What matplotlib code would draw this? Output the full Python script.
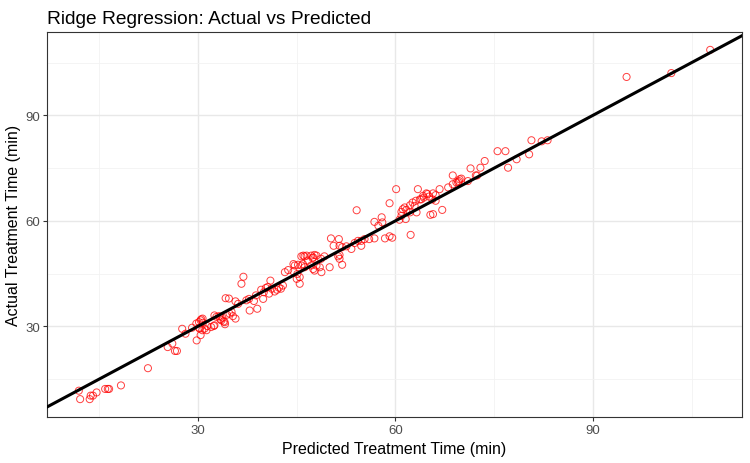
import numpy as np
import matplotlib
matplotlib.use("Agg")
import matplotlib.pyplot as plt
from matplotlib.ticker import MultipleLocator

plt.rcParams['font.family'] = ['Liberation Sans', 'DejaVu Sans']

# predicted vs actual treatment time (min)
predicted = [
    11.9, 12.1, 13.55, 13.7, 14.05, 14.6, 15.9, 16.3, 16.5, 18.3,
    22.4, 25.4, 26.1, 26.5, 26.8, 27.6, 28.1, 29.1, 29.75, 29.8,
    30.15, 30.15, 30.4, 30.4, 30.5, 30.7, 30.75, 30.25, 30.65, 31.3,
    31.0, 31.4, 32.0, 32.4, 32.5, 32.5, 32.8, 33.2, 33.4, 33.55,
    33.7, 33.9, 34.05, 34.1, 34.2, 34.4, 34.7, 34.8, 35.1, 35.3,
    35.7, 35.7, 36.1, 36.6, 36.9, 37.35, 37.75, 37.85, 38.5, 38.8,
    39.0, 39.6, 39.9, 40.0, 40.3, 40.6, 40.8, 41.0, 41.2, 41.65,
    42.0, 42.3, 42.6, 42.9, 43.2, 43.7, 44.5, 44.5, 44.7, 45.0,
    45.1, 45.45, 45.45, 45.2, 45.7, 45.7, 45.95, 46.0, 46.2, 46.2,
    46.5, 46.7, 47.2, 47.2, 47.4, 47.5, 47.5, 47.7, 47.7, 48.0,
    48.0, 48.5, 48.7, 48.75, 49.2, 50.0, 50.2, 50.6, 51.3, 51.5,
    51.5, 51.4, 51.5, 51.9, 51.9, 52.55, 53.3, 53.8, 54.1, 54.3,
    54.8, 54.8, 55.3, 56.0, 56.8, 56.8, 57.4, 57.9, 58.0, 58.4,
    59.1, 59.1, 59.5, 60.1, 60.6, 60.9, 60.9, 61.1, 61.4, 61.55,
    61.65, 62.2, 62.2, 62.3, 62.6, 62.9, 63.1, 63.2, 63.4, 63.7,
    63.9, 64.2, 64.3, 64.7, 64.85, 65.1, 65.3, 65.6, 65.7, 65.7,
    66.1, 66.1, 66.7, 67.1, 68.0, 68.7, 68.7, 69.25, 69.5, 69.65,
    69.75, 70.0, 71.0, 71.4, 72.2, 72.4, 72.9, 73.55, 75.5, 76.7,
    77.1, 78.4, 80.3, 80.65, 82.2, 83.1, 95.1, 101.9, 107.8,
]
actual = [
    11.7, 9.3, 9.3, 10.3, 10.3, 11.2, 12.2, 12.2, 12.2, 13.2,
    18.1, 24.1, 25.1, 23.0, 23.0, 29.3, 27.9, 29.6, 30.8, 26.0,
    29.6, 31.2, 27.5, 31.7, 32.0, 32.2, 31.0, 29.35, 28.9, 28.9,
    29.35, 30.1, 29.8, 30.1, 30.3, 33.1, 32.7, 32.9, 32.0, 31.7,
    32.5, 31.4, 31.2, 30.6, 38.0, 33.3, 37.9, 33.6, 34.1, 32.9,
    32.2, 37.1, 36.4, 42.1, 44.1, 37.4, 37.8, 34.5, 37.2, 38.8,
    35.0, 40.4, 37.8, 39.7, 40.9, 41.2, 39.3, 43.0, 40.7, 39.9,
    40.4, 41.0, 40.7, 41.6, 45.4, 46.0, 47.7, 45.6, 47.3, 43.5,
    44.9, 44.0, 42.1, 47.5, 47.3, 49.9, 47.7, 50.1, 46.8, 49.9,
    50.1, 48.7, 47.3, 50.1, 49.4, 46.3, 49.6, 45.85, 50.3, 47.3,
    50.1, 46.8, 49.2, 45.4, 49.9, 46.8, 55.0, 52.9, 49.9, 49.2,
    50.3, 54.8, 52.9, 47.5, 52.5, 52.75, 52.0, 53.7, 63.0, 54.3,
    54.3, 52.9, 54.8, 54.8, 55.0, 59.7, 58.6, 61.0, 59.55, 55.0,
    55.6, 65.0, 55.2, 69.0, 60.3, 61.4, 62.55, 63.3, 63.8, 60.5,
    63.1, 62.4, 64.4, 56.0, 65.2, 64.25, 65.7, 62.4, 69.0, 66.1,
    66.1, 67.1, 66.6, 67.8, 67.6, 66.9, 61.7, 66.1, 61.9, 67.8,
    67.3, 65.7, 69.0, 63.1, 69.5, 70.4, 72.9, 70.9, 71.0, 71.3,
    71.8, 72.0, 71.3, 74.9, 72.9, 72.9, 75.1, 77.0, 79.8, 79.8,
    75.1, 77.5, 78.9, 82.9, 82.6, 82.9, 100.9, 102.0, 108.6,
]

x = np.array(predicted)
y = np.array(actual)

fig = plt.figure(figsize=(7.5, 4.64), dpi=100)
ax = fig.add_axes([0.063, 0.100, 0.926, 0.828])

# ggplot-like 5% expansion
xr = x.max() - x.min()
yr = y.max() - y.min()
ax.set_xlim(x.min() - 0.05 * xr, x.max() + 0.05 * xr)
ax.set_ylim(y.min() - 0.05 * yr, y.max() + 0.05 * yr)

ax.scatter(x, y, s=26, facecolors='none', edgecolors='red', linewidths=0.7,
           alpha=0.75, zorder=3)
ax.axline((0, 0), slope=1, color='black', linewidth=2.2, zorder=4)

# theme_bw
ax.set_facecolor('white')
ax.xaxis.set_major_locator(MultipleLocator(30))
ax.yaxis.set_major_locator(MultipleLocator(30))
ax.xaxis.set_minor_locator(MultipleLocator(15))
ax.yaxis.set_minor_locator(MultipleLocator(15))
ax.grid(True, which='major', color='#E8E8E8', linewidth=1.0, zorder=0)
ax.grid(True, which='minor', color='#F2F2F2', linewidth=0.6, zorder=0)
ax.set_axisbelow(True)
for sp in ax.spines.values():
    sp.set_color('#333333')
    sp.set_linewidth(0.8)
ax.tick_params(which='major', length=3, width=0.8, color='#333333',
               labelsize=9.5, labelcolor='#4D4D4D', pad=2)
ax.tick_params(which='minor', length=0)

ax.set_xlabel("Predicted Treatment Time (min)", fontsize=11.5, labelpad=4)
ax.set_ylabel("Actual Treatment Time (min)", fontsize=11.5, labelpad=3)
ax.set_title("Ridge Regression: Actual vs Predicted", fontsize=13.8,
             loc='left', pad=7)

fig.savefig("out.png", dpi=100)
